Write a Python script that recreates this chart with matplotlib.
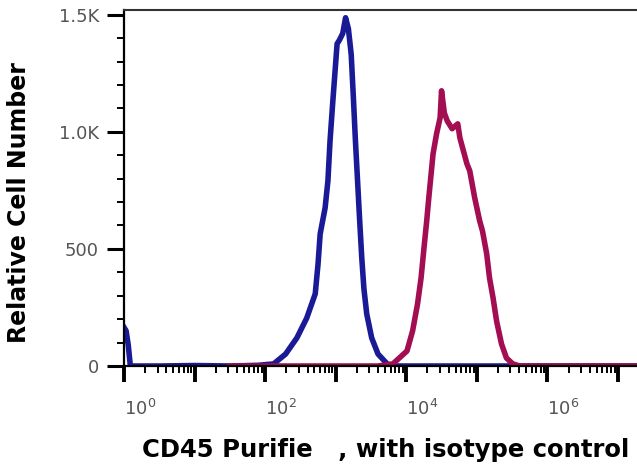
import matplotlib.pyplot as plt
import matplotlib.ticker as mticker
import numpy as np

# Histogram traces. x is the log10 of the fluorescence.
blue_log_x = [0.0, 0.03, 0.06, 0.09, 0.5, 1.0, 1.5, 1.9, 2.12, 2.29, 2.45, 2.59,
              2.71, 2.75, 2.78, 2.85, 2.89, 2.92, 2.96, 3.02, 3.05, 3.10, 3.14,
              3.18, 3.22, 3.25, 3.28, 3.31, 3.34, 3.37, 3.40, 3.44, 3.51, 3.60,
              3.73, 3.81, 4.5, 7.3]
blue_count = [165, 150, 90, 0, 0, 2, 0, 3, 9, 51, 120, 205,
              308, 436, 564, 675, 791, 962, 1133, 1376, 1390, 1420, 1487,
              1440, 1330, 1150, 960, 790, 620, 460, 330, 222, 120, 51,
              9, 0, 0, 0]

red_log_x = [1.5, 3.6, 3.81, 4.01, 4.09, 4.16, 4.21, 4.25, 4.29, 4.32, 4.38,
             4.43, 4.48, 4.50, 4.54, 4.58, 4.65, 4.73, 4.76, 4.86, 4.90, 4.97,
             5.04, 5.08, 5.14, 5.18, 5.23, 5.28, 5.35, 5.42, 5.51, 5.61, 7.3]
red_count = [0, 0, 9, 64, 150, 265, 376, 500, 620, 720, 906,
             992, 1060, 1175, 1080, 1047, 1013, 1034, 974, 863, 833, 718,
             620, 577, 479, 376, 291, 192, 94, 34, 9, 0, 0]

y_ticks = [0, 500, 1000, 1500]
y_tick_labels = ['0', '500', '1.0K', '1.5K']
x_decades = [0, 1, 2, 3, 4, 5, 6, 7]
x_labelled = [0, 2, 4, 6]

fig = plt.figure(figsize=(6.37, 4.68), dpi=100)
ax = fig.add_axes([124 / 637, 102 / 468, 513 / 637, 356 / 468])

ax.plot(10 ** np.array(blue_log_x), blue_count, color='#1a1a96', lw=4)
ax.plot(10 ** np.array(red_log_x), red_count, color='#a30d52', lw=4)

ax.set_xscale('log')
ax.set_xlim(1, 10 ** 7.27)
ax.set_ylim(0, 1520)

# x ticks: every decade, labels only on the even ones
ax.xaxis.set_major_locator(mticker.FixedLocator([10.0 ** d for d in x_decades]))
ax.xaxis.set_minor_locator(mticker.LogLocator(base=10, subs=np.arange(2, 10), numticks=20))
ax.xaxis.set_minor_formatter(mticker.NullFormatter())


def x_fmt(v, pos):
    d = int(round(np.log10(v)))
    return r'$10^{%d}$' % d if d in x_labelled else ''


ax.xaxis.set_major_formatter(mticker.FuncFormatter(x_fmt))
for lab in ax.get_xticklabels():
    lab.set_horizontalalignment('left')

ax.set_yticks(y_ticks)
ax.set_yticklabels(y_tick_labels)
ax.yaxis.set_minor_locator(mticker.MultipleLocator(100))

ax.tick_params(axis='both', which='major', direction='out', colors='black',
               labelcolor='#555555')
ax.tick_params(axis='y', which='major', length=12, width=2.2, pad=6, labelsize=13)
ax.tick_params(axis='y', which='minor', length=5, width=1.4)
ax.tick_params(axis='x', which='major', length=11.5, width=2.8, pad=12, labelsize=13)
ax.tick_params(axis='x', which='minor', length=5, width=1.4)

ax.spines['right'].set_visible(False)
ax.spines['left'].set_linewidth(1.6)
ax.spines['bottom'].set_linewidth(1.6)
ax.spines['top'].set_linewidth(1.5)
ax.spines['top'].set_color('#333333')

fig.text(19 / 637, 1 - 203 / 468, 'Relative Cell Number', rotation=90,
         ha='center', va='center', fontsize=17, fontweight='bold')
fig.text(386 / 637, 1 - 450 / 468, 'CD45 Purifie   , with isotype control',
         ha='center', va='center', fontsize=17.5, fontweight='bold')

fig.savefig('out.png', dpi=100)
